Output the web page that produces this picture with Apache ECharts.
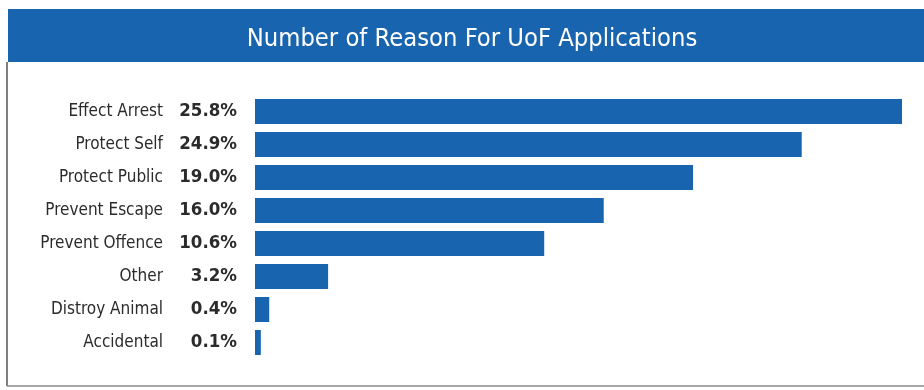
<!DOCTYPE html>
<html>
<head>
<meta charset="utf-8">
<script src="https://cdn.jsdelivr.net/npm/echarts@6/dist/echarts.min.js"></script>
<style>
html,body{margin:0;padding:0;background:#fff;}
#chart{width:924px;height:390px;}
</style>
</head>
<body>
<div id="chart"></div>
<script>
const titleText = "Number of Reason For UoF Applications";
const categories = ["Effect Arrest","Protect Self","Protect Public","Prevent Escape","Prevent Offence","Other","Distroy Animal","Accidental"];
const percentLabels = ["25.8%","24.9%","19.0%","16.0%","10.6%","3.2%","0.4%","0.1%"];
// relative bar lengths as drawn in the picture (longest bar = 100)
const barLengths = [100, 84.5, 67.7, 53.9, 44.7, 11.3, 2.2, 0.9];

const blue = "#1864ae";
const font = '"DejaVu Sans Condensed","Liberation Sans Narrow",sans-serif';
const chart = echarts.init(document.getElementById('chart'), null, {renderer:'canvas'});
chart.setOption({
  backgroundColor: '#ffffff',
  animation: false,
  graphic: [
    {type:'rect', shape:{x:8, y:9, width:916, height:53}, style:{fill:blue}, z:0},
    {type:'line', shape:{x1:7, y1:62, x2:7, y2:386}, style:{stroke:'#555', lineWidth:1.5}},
    {type:'line', shape:{x1:7, y1:386, x2:924, y2:386}, style:{stroke:'#888', lineWidth:1.5}}
  ],
  title: {
    text: titleText,
    left: 467, top: 22, textAlign: 'center',
    textStyle: {color:'#fff', fontSize:25.3, fontWeight:'normal', fontFamily:font}
  },
  grid: {left:255, top:95, width:647, height:264, containLabel:false},
  xAxis: {type:'value', min:0, max:100, show:false},
  yAxis: {
    type:'category', data:categories, inverse:true,
    axisLine:{show:false}, axisTick:{show:false},
    axisLabel:{
      margin:18,
      formatter:(v, i) => '{a|' + v + '}{b|' + percentLabels[i] + '}',
      rich:{
        a:{fontSize:17, color:'#2b2b2b', fontFamily:font},
        b:{fontSize:18.5, fontWeight:'bold', color:'#2b2b2b', width:74, align:'right', fontFamily:font}
      }
    }
  },
  series: [{
    type:'bar', data:barLengths, barWidth:25,
    itemStyle:{color:blue}, silent:true
  }]
});
</script>
</body>
</html>
